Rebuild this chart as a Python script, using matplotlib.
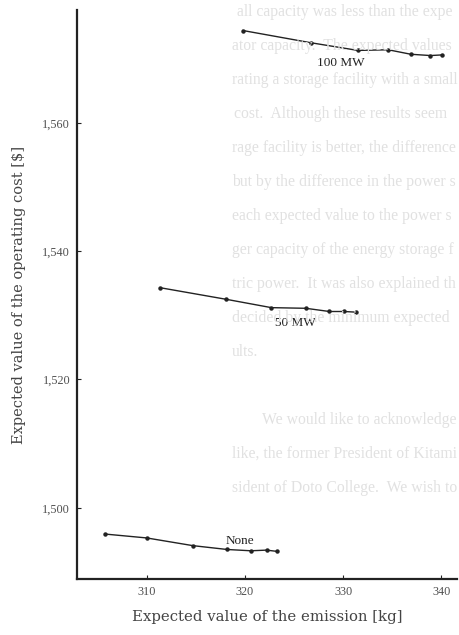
import numpy as np
import matplotlib.pyplot as plt

plt.rcParams['font.family'] = ['Liberation Serif', 'DejaVu Serif']

# expected emission [kg] and expected operating cost [$] for each storage size
x_100mw = [319.8, 326.7, 331.5, 334.6, 336.9, 338.9, 340.1]
y_100mw = [1574.4, 1572.5, 1571.3, 1571.4, 1570.7, 1570.5, 1570.6]

x_50mw = [311.4, 318.1, 322.7, 326.2, 328.6, 330.1, 331.3]
y_50mw = [1534.3, 1532.5, 1531.2, 1531.1, 1530.6, 1530.6, 1530.5]

x_none = [305.8, 310.0, 314.7, 318.2, 320.6, 322.2, 323.3]
y_none = [1495.9, 1495.3, 1494.1, 1493.5, 1493.3, 1493.4, 1493.2]

names = ['100 MW', '50 MW', 'None']
label_x = [329.8, 325.1, 319.5]
label_y = [1569.3, 1528.8, 1494.8]

xticks = [310, 320, 330, 340]
yticks = [1500, 1520, 1540, 1560]
ytick_labels = ['1,500', '1,520', '1,540', '1,560']

# faint text showing through from the other side of the page
page_lines = [
    (237, 12, 'all capacity was less than the expect'),
    (232, 46, 'ator capacity.  The expected values o'),
    (232, 80, 'rating a storage facility with a small'),
    (234, 114, 'cost.  Although these results seem'),
    (232, 148, 'rage facility is better, the differences'),
    (232, 182, 'but by the difference in the power su'),
    (232, 216, 'each expected value to the power su'),
    (232, 250, 'ger capacity of the energy storage f'),
    (232, 284, 'tric power.  It was also explained th'),
    (232, 318, 'decided by the minimum expected va'),
    (232, 352, 'ults.'),
    (262, 420, 'We would like to acknowledge va'),
    (232, 454, 'like, the former President of Kitami'),
    (232, 488, 'sident of Doto College.  We wish to'),
]

W, H = 459, 635
fig = plt.figure(figsize=(W / 100, H / 100), dpi=100)
renderer = fig.canvas.get_renderer()

for px, py, s in page_lines:
    t = fig.text(px / W, 1 - py / H, s, fontsize=11.3, color='#e1e1e1',
                 ha='left', va='center', zorder=0)
    # drop letters that would run past the page edge
    while t.get_window_extent(renderer).x1 > W - 1 and len(s) > 1:
        s = s[:-1]
        t.set_text(s)

ax = fig.add_axes([77 / W, 1 - 579 / H, (457 - 77) / W, (579 - 10) / H])
ax.patch.set_alpha(0)

for xs, ys in [(x_100mw, y_100mw), (x_50mw, y_50mw), (x_none, y_none)]:
    ax.plot(xs, ys, '-', color='#222222', lw=1.0, marker='o', ms=2.2)
for name, lx, ly in zip(names, label_x, label_y):
    ax.text(lx, ly, name, fontsize=9.5, color='#222222', ha='center', va='center')

ax.set_xlim(302.9, 341.6)
ax.set_ylim(1488.9, 1577.6)
ax.set_xticks(xticks)
ax.set_yticks(yticks)
ax.set_yticklabels(ytick_labels)
ax.tick_params(direction='in', length=3, width=0.8, labelsize=8.8, colors='#222222',
               labelcolor='#505050', pad=5)
for side in ['top', 'right']:
    ax.spines[side].set_visible(False)
for side in ['left', 'bottom']:
    ax.spines[side].set_linewidth(1.6)
    ax.spines[side].set_color('#222222')

ax.set_xlabel('Expected value of the emission [kg]', fontsize=10.7, color='#444444',
              labelpad=9, family='DejaVu Serif')
ax.set_ylabel('Expected value of the operating cost [$]', fontsize=10.5, color='#444444',
              labelpad=12, family='DejaVu Serif')

fig.savefig('out.png', dpi=100)
